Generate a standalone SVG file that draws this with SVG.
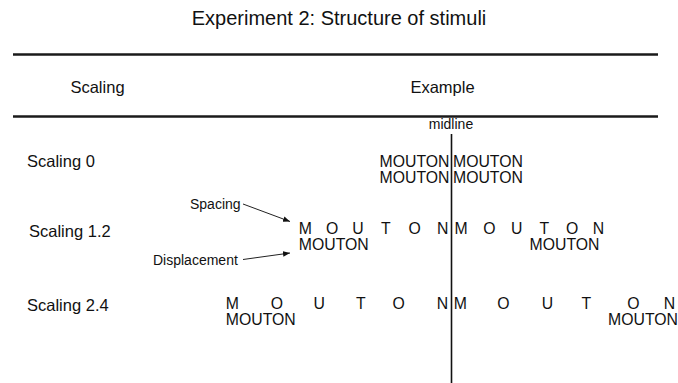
<svg xmlns="http://www.w3.org/2000/svg" width="678" height="383" viewBox="0 0 678 383">
  <style>
    text { font-family: "Liberation Sans", Arial, Helvetica, sans-serif; fill: #111; }
    .title { font-size: 20px; text-anchor: middle; }
    .head { font-size: 16.5px; text-anchor: middle; }
    .label { font-size: 16.5px; }
    .word { font-size: 15.8px; }
    .note { font-size: 14px; }
    .rule { stroke: #1a1a1a; stroke-width: 2.5; }
    .mid { stroke: #111; stroke-width: 1.6; }
    .arrow { stroke: #222; stroke-width: 1; fill: none; marker-end: url(#head); }
  </style>
  <defs>
    <marker id="head" viewBox="0 0 10 10" refX="10" refY="5" markerWidth="7" markerHeight="7" orient="auto" markerUnits="userSpaceOnUse">
      <path d="M0,1 L10,5 L0,9 Z" fill="#111"/>
    </marker>
  </defs>

  <rect width="678" height="383" fill="#fff"/>

  <!-- title and table frame -->
  <g id="title">
    <text class="title" x="339" y="25">Experiment 2: Structure of stimuli</text>
  </g>
  <g id="table-rules">
    <line class="rule" x1="13" y1="54.5" x2="658" y2="54.5"/>
    <line class="rule" x1="13" y1="116.5" x2="658" y2="116.5"/>
  </g>
  <g id="col-scaling">
    <text class="head" x="97.5" y="93">Scaling</text>
  </g>
  <g id="col-example">
    <text class="head" x="442.5" y="92.5">Example</text>
  </g>

  <!-- vertical midline -->
  <g id="midline">
    <text class="note" x="451" y="129" text-anchor="middle">midline</text>
    <line class="mid" x1="451.5" y1="134" x2="451.5" y2="383"/>
  </g>

  <!-- row: scaling 0 -->
  <g id="row-scaling-0">
    <text class="label" x="27" y="166.5">Scaling 0</text>
    <text class="word" x="449.5" y="167" text-anchor="end">MOUTON</text>
    <text class="word" x="453" y="167">MOUTON</text>
    <text class="word" x="449.5" y="183" text-anchor="end">MOUTON</text>
    <text class="word" x="453" y="183">MOUTON</text>
  </g>

  <!-- row: scaling 1.2 -->
  <g id="row-scaling-1-2">
    <text class="label" x="29" y="237">Scaling 1.2</text>
    <text class="word" x="298.8 326 352.3 381 408.5 437" y="234">MOUTON</text>
    <text class="word" x="454.6 483.3 511 539.6 566 592.8" y="234">MOUTON</text>
    <text class="word" x="298.8" y="250">MOUTON</text>
    <text class="word" x="599.5" y="250" text-anchor="end">MOUTON</text>
  </g>

  <!-- row: scaling 2.4 -->
  <g id="row-scaling-2-4">
    <text class="label" x="27" y="310.5">Scaling 2.4</text>
    <text class="word" x="225.8 270.8 313.5 356 392.5 436.8" y="308.5">MOUTON</text>
    <text class="word" x="453.8 497.2 541.8 581.4 627.2 663.8" y="308.5">MOUTON</text>
    <text class="word" x="225.8" y="324.5">MOUTON</text>
    <text class="word" x="678" y="324.5" text-anchor="end">MOUTON</text>
  </g>

  <!-- annotations -->
  <g id="spacing-note">
    <text class="note" x="190" y="208.5">Spacing</text>
  </g>
  <g id="displacement-note">
    <text class="note" x="153" y="265">Displacement</text>
  </g>
  <g id="connectors">
    <line class="arrow" x1="243" y1="204" x2="290" y2="221.5"/>
    <line class="arrow" x1="243" y1="259.5" x2="290" y2="253"/>
  </g>
</svg>
